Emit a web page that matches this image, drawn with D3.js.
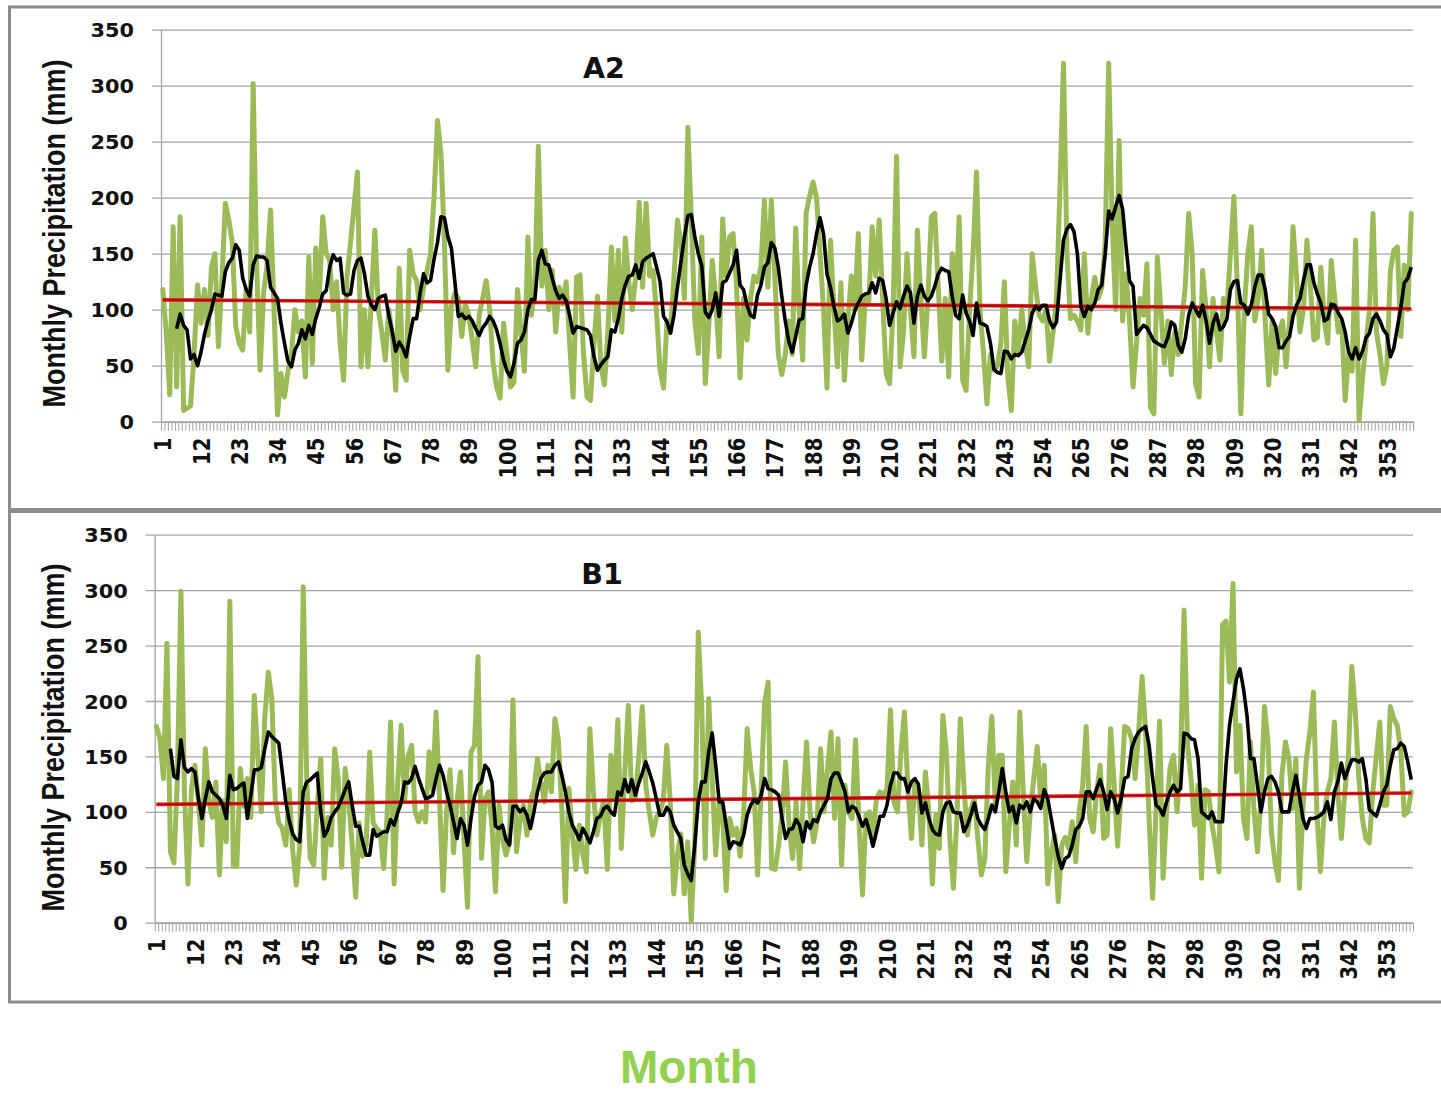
<!DOCTYPE html>
<html>
<head>
<meta charset="utf-8">
<script src="https://cdn.jsdelivr.net/npm/d3@7"></script>
<style>
  html, body { margin: 0; padding: 0; background: #fff; }
  svg { display: block; }
</style>
</head>
<body>
<svg id="chart" width="1441" height="1095"></svg>
<script>
// Categories: 360 consecutive months
const months = d3.range(1, 361);
// Labelled months on the category axis (every 11th month)
const xTickLabels = d3.range(1, 361, 11);
// Value axis ticks (mm)
const yTicks = [0, 50, 100, 150, 200, 250, 300, 350];

// Scenario A2 – monthly precipitation (mm), one row per 12 months
const a2Rain = [
  118, 80, 24, 174, 31, 183, 10, 12, 14, 60, 122, 88,
  118, 77, 138, 150, 67, 125, 195, 180, 160, 85, 70, 64,
  118, 80, 302, 140, 46, 115, 140, 189, 100, 6, 43, 22,
  45, 60, 100, 80, 90, 40, 147, 52, 155, 110, 183, 150,
  144, 100, 125, 70, 37, 130, 160, 192, 223, 49, 100, 49,
  110, 171, 100, 80, 55, 100, 78, 28, 137, 46, 37, 153,
  132, 126, 100, 120, 135, 150, 200, 269, 240, 160, 46, 103,
  115, 110, 76, 105, 95, 73, 49, 95, 110, 126, 100, 52,
  31, 21, 88, 60, 31, 35, 118, 80, 45, 165, 95, 120,
  246, 121, 153, 100, 135, 80, 120, 105, 125, 70, 22, 129,
  131, 60, 22, 19, 70, 112, 49, 33, 80, 156, 90, 153,
  80, 164, 125, 100, 130, 196, 120, 195, 130, 135, 97, 46,
  30, 90, 80, 130, 180, 160, 110, 263, 180, 90, 61, 165,
  34, 85, 144, 110, 58, 181, 130, 165, 168, 120, 39, 110,
  73, 110, 130, 125, 138, 198, 120, 198, 130, 60, 42, 60,
  90, 60, 173, 100, 55, 186, 201, 214, 200, 150, 100, 30,
  162, 100, 49, 124, 37, 90, 130, 100, 168, 55, 110, 105,
  174, 130, 180, 110, 43, 34, 100, 237, 49, 80, 150, 100,
  58, 171, 110, 58, 110, 183, 186, 120, 54, 110, 40, 150,
  100, 183, 37, 28, 100, 150, 223, 100, 61, 16, 60, 46,
  50, 70, 125, 40, 10, 90, 61, 100, 70, 49, 150, 120,
  95, 90, 100, 54, 80, 110, 210, 320, 150, 92, 95, 90,
  82, 150, 79, 110, 129, 110, 120, 160, 320, 180, 100, 251,
  90, 132, 90, 31, 70, 110, 95, 141, 13, 7, 147, 100,
  52, 90, 42, 80, 60, 90, 120, 186, 150, 34, 22, 135,
  100, 49, 110, 80, 55, 110, 100, 150, 201, 120, 7, 100,
  150, 174, 90, 110, 153, 90, 33, 90, 43, 80, 90, 49,
  90, 174, 130, 80, 100, 162, 120, 73, 75, 138, 90, 70,
  144, 110, 80, 90, 19, 60, 45, 162, 1, 40, 70, 100,
  186, 80, 60, 34, 50, 135, 153, 156, 76, 140, 100, 186
];

// Scenario A2 – moving-average curve (mm); starts at month 5
const a2Smooth = [
  null, null, null, null, 83, 96, 86, 82, 56, 60, 50, 62,
  78, 90, 100, 114, 113, 112, 134, 142, 146, 158, 153, 128,
  118, 112, 140, 148, 147, 147, 144, 120, 115, 110, 88, 70,
  54, 49, 64, 70, 82, 74, 86, 78, 92, 102, 114, 117,
  138, 149, 144, 146, 115, 113, 114, 135, 144, 146, 132, 112,
  104, 100, 110, 112, 113, 95, 80, 63, 71, 66, 58, 76,
  92, 92, 115, 132, 124, 126, 145, 160, 183, 182, 165, 155,
  125, 94, 96, 92, 94, 90, 83, 77, 84, 88, 94, 90,
  82, 70, 55, 45, 40, 52, 70, 73, 80, 100, 109, 109,
  144, 153, 141, 140, 128, 117, 110, 113, 108, 95, 79, 85,
  84, 83, 82, 77, 58, 46, 51, 55, 58, 82, 80, 92,
  110, 122, 130, 131, 140, 128, 143, 146, 148, 150, 138, 125,
  94, 89, 79, 95, 120, 143, 165, 184, 185, 165, 150, 139,
  98, 93, 100, 115, 94, 124, 126, 133, 140, 153, 122, 118,
  104, 95, 93, 113, 122, 138, 142, 160, 155, 138, 112, 90,
  72, 62, 76, 91, 92, 122, 138, 150, 168, 182, 168, 132,
  120, 103, 90, 92, 96, 79, 88, 99, 106, 112, 114, 115,
  124, 115, 128, 126, 110, 86, 97, 107, 101, 112, 121, 115,
  88, 112, 122, 112, 108, 112, 121, 132, 137, 135, 134, 112,
  95, 92, 113, 97, 90, 77, 106, 88, 87, 85, 70, 47,
  44, 43, 63, 62, 56, 60, 59, 62, 72, 82, 97, 103,
  100, 104, 104, 90, 84, 89, 126, 162, 172, 176, 170, 150,
  103, 94, 103, 100, 106, 118, 122, 150, 188, 181, 192, 202,
  190, 156, 126, 121, 78, 82, 86, 84, 78, 72, 70, 68,
  67, 75, 89, 86, 68, 62, 74, 95, 106, 100, 94, 104,
  90, 70, 88, 96, 82, 85, 92, 118, 125, 126, 106, 104,
  96, 104, 120, 131, 131, 118, 96, 92, 85, 66, 66, 72,
  76, 94, 104, 110, 126, 140, 140, 124, 114, 106, 90, 92,
  105, 104, 97, 92, 80, 62, 56, 66, 56, 63, 75, 79,
  92, 96, 90, 82, 78, 58, 66, 84, 102, 124, 128, 138
];

// Scenario A2 – linear trend, value at first and last month
const a2Trend = [108.8, 100.9];

// Scenario B1 – monthly precipitation (mm), one row per 12 months
const b1Rain = [
  177, 166, 130, 252, 64, 54, 130, 299, 118, 35, 120, 142,
  110, 70, 157, 110, 95, 127, 43, 110, 73, 290, 51, 51,
  139, 105, 130, 95, 205, 150, 100, 185, 226, 202, 110, 90,
  85, 70, 120, 65, 34, 70, 303, 130, 58, 52, 105, 148,
  40, 95, 70, 157, 130, 50, 139, 110, 70, 23, 90, 60,
  70, 154, 90, 85, 82, 49, 97, 181, 35, 125, 178, 110,
  150, 160, 100, 91, 100, 91, 154, 120, 190, 110, 29, 100,
  138, 63, 110, 136, 75, 14, 154, 160, 240, 58, 112, 118,
  88, 28, 106, 75, 61, 73, 201, 64, 91, 106, 79, 109,
  120, 148, 127, 109, 142, 118, 184, 165, 100, 19, 121, 79,
  48, 88, 61, 46, 175, 118, 79, 97, 110, 48, 151, 112,
  183, 67, 136, 196, 110, 112, 150, 195, 124, 100, 79, 95,
  100, 110, 160, 109, 26, 60, 80, 26, 73, 1, 70, 262,
  196, 58, 202, 130, 61, 109, 94, 29, 94, 79, 85, 60,
  97, 175, 139, 118, 43, 118, 199, 217, 49, 48, 70, 97,
  145, 88, 58, 109, 49, 109, 163, 100, 73, 91, 157, 100,
  139, 172, 94, 166, 52, 124, 100, 94, 165, 91, 25, 97,
  100, 79, 112, 118, 115, 120, 192, 109, 100, 154, 190, 120,
  76, 128, 118, 70, 136, 100, 35, 97, 67, 187, 154, 76,
  31, 94, 184, 124, 79, 103, 112, 76, 43, 58, 142, 186,
  106, 151, 151, 46, 88, 127, 70, 190, 118, 55, 100, 130,
  159, 109, 142, 35, 64, 79, 19, 70, 77, 67, 91, 55,
  100, 124, 177, 94, 82, 118, 142, 76, 79, 175, 124, 69,
  118, 177, 175, 166, 130, 172, 222, 172, 94, 22, 103, 182,
  40, 100, 140, 151, 100, 142, 282, 160, 130, 88, 124, 40,
  120, 118, 88, 70, 46, 269, 272, 217, 306, 136, 178, 94,
  76, 163, 103, 64, 112, 195, 163, 82, 55, 38, 133, 163,
  148, 103, 148, 31, 103, 148, 172, 208, 100, 46, 94, 118,
  130, 181, 118, 76, 118, 150, 231, 190, 130, 94, 76, 72,
  118, 150, 181, 106, 106, 195, 184, 178, 155, 97, 100, 118
];

// Scenario B1 – moving-average curve (mm); starts at month 5
const b1Smooth = [
  null, null, null, null, 157, 132, 130, 165, 140, 136, 139, 136,
  112, 94, 112, 127, 118, 115, 112, 106, 94, 133, 120, 121,
  124, 126, 94, 115, 138, 138, 140, 157, 172, 168, 165, 162,
  136, 109, 92, 80, 75, 73, 118, 127, 129, 132, 135, 100,
  78, 84, 95, 100, 104, 112, 120, 127, 106, 87, 87, 73,
  61, 61, 84, 78, 80, 82, 82, 93, 88, 99, 108, 127,
  126, 130, 141, 130, 121, 112, 113, 115, 130, 142, 133, 118,
  106, 91, 76, 94, 88, 70, 94, 114, 124, 127, 142, 138,
  127, 87, 85, 88, 75, 70, 105, 105, 100, 103, 97, 85,
  100, 118, 130, 135, 136, 136, 142, 145, 133, 118, 100, 88,
  82, 75, 85, 79, 72, 82, 94, 96, 103, 105, 100, 97,
  118, 115, 129, 118, 129, 115, 126, 135, 145, 136, 126, 112,
  97, 97, 104, 100, 88, 82, 76, 52, 44, 38, 70, 109,
  127, 127, 154, 171, 142, 109, 109, 88, 67, 73, 72, 70,
  79, 97, 106, 111, 108, 115, 130, 121, 120, 118, 115, 94,
  76, 84, 85, 93, 88, 73, 91, 85, 93, 91, 100, 106,
  112, 130, 135, 135, 127, 118, 100, 105, 103, 96, 87, 93,
  82, 69, 82, 96, 96, 106, 124, 135, 135, 130, 130, 118,
  127, 130, 125, 99, 108, 94, 84, 80, 79, 100, 108, 109,
  100, 99, 99, 82, 88, 97, 108, 94, 88, 84, 94, 106,
  100, 118, 139, 118, 100, 105, 90, 106, 103, 109, 100, 112,
  109, 103, 120, 112, 94, 76, 60, 49, 58, 60, 70, 84,
  87, 94, 118, 118, 112, 121, 129, 118, 102, 118, 112, 99,
  112, 130, 132, 157, 166, 172, 175, 177, 160, 130, 106, 103,
  97, 109, 118, 124, 118, 121, 171, 170, 166, 165, 148, 100,
  97, 94, 100, 91, 91, 91, 142, 178, 199, 220, 229, 211,
  187, 148, 148, 124, 100, 118, 130, 132, 127, 118, 100, 100,
  100, 118, 133, 115, 94, 85, 94, 94, 95, 97, 100, 109,
  93, 118, 127, 144, 130, 139, 147, 147, 145, 148, 130, 102,
  99, 96, 106, 118, 124, 142, 156, 157, 162, 159, 145, 129
];

// Scenario B1 – linear trend, value at first and last month
const b1Trend = [106.7, 117.0];
const trendMonths = [1, 360];

// Layout of the two stacked panels
const panels = [
  { title: "A2", rain: a2Rain, smooth: a2Smooth, trend: a2Trend,
    frameTop: 7, frameBottom: 509.5,
    left: 161, right: 1413, top: 29.7, bottom: 421.7,
    titleX: 604, titleY: 77.5, yTitleX: 65, yTitleY: 233.5 },
  { title: "B1", rain: b1Rain, smooth: b1Smooth, trend: b1Trend,
    frameTop: 511.5, frameBottom: 1002,
    left: 154.7, right: 1413, top: 534.7, bottom: 922.7,
    titleX: 602, titleY: 583.5, yTitleX: 64, yTitleY: 737.5 }
];

const COLORS = {
  rain: "#9BBB59",
  smooth: "#000000",
  trendOuter: "#e01b1b",
  trendInner: "#a30000",
  grid: "#a3a3a3",
  frame: "#8c8c8c",
  text: "#111111",
  xTitle: "#92D050"
};
const TICK_FONT = "'DejaVu Sans', Verdana, sans-serif";
const TITLE_FONT = "'Liberation Sans', Arial, sans-serif";

const svg = d3.select("#chart");

panels.forEach(p => {
  const g = svg.append("g");

  // panel frame (extends past the right edge of the page)
  g.append("rect")
    .attr("x", 9.5).attr("y", p.frameTop)
    .attr("width", 1450).attr("height", p.frameBottom - p.frameTop)
    .attr("fill", "none")
    .attr("stroke", COLORS.frame)
    .attr("stroke-width", 3);

  const x = d3.scaleLinear().domain([0.5, 360.5]).range([p.left, p.right]);
  const y = d3.scaleLinear().domain([0, 350]).range([p.bottom, p.top]);

  // value axis with gridlines
  const yAxis = g.append("g")
    .attr("transform", `translate(${p.left},0)`)
    .call(d3.axisLeft(y).tickValues(yTicks)
      .tickSize(-(p.right - p.left)).tickSizeOuter(0).tickFormat(d3.format("d")));
  yAxis.select(".domain").attr("stroke", COLORS.grid).attr("stroke-width", 1.3);
  yAxis.selectAll(".tick line")
    .attr("x1", -9)
    .attr("stroke", COLORS.grid).attr("stroke-width", 1.3);
  yAxis.selectAll(".tick text")
    .attr("x", null).attr("dy", "0.36em")
    .attr("transform", "translate(-27,0) scale(1.07,1)")
    .attr("text-anchor", "end")
    .attr("fill", COLORS.text)
    .style("font-family", TICK_FONT)
    .style("font-weight", "bold")
    .style("font-size", "19.5px");

  // category axis: one small tick per month boundary
  const xMinor = g.append("g")
    .attr("transform", `translate(0,${p.bottom})`)
    .call(d3.axisBottom(x).tickValues(d3.range(0.5, 361, 1))
      .tickSize(9).tickSizeOuter(0).tickFormat(""));
  xMinor.select(".domain").attr("stroke", COLORS.grid).attr("stroke-width", 1.5);
  xMinor.selectAll(".tick line").attr("stroke", COLORS.grid).attr("stroke-width", 1);

  // category labels, rotated
  const xLab = g.append("g")
    .attr("transform", `translate(0,${p.bottom})`)
    .call(d3.axisBottom(x).tickValues(xTickLabels).tickSize(0).tickPadding(0));
  xLab.select(".domain").remove();
  xLab.selectAll(".tick text")
    .attr("y", null).attr("dy", "0.36em")
    .attr("transform", "translate(0,16) scale(1.15,1) rotate(-90)")
    .attr("text-anchor", "end")
    .attr("fill", COLORS.text)
    .style("font-family", TICK_FONT)
    .style("font-weight", "bold")
    .style("font-size", "19.6px");

  // series
  const line = d3.line()
    .defined(d => d[1] != null)
    .x(d => x(d[0]))
    .y(d => y(d[1]));

  g.append("path")
    .datum(months.map((m, i) => [m, p.rain[i]]))
    .attr("d", line)
    .attr("fill", "none")
    .attr("stroke", COLORS.rain)
    .attr("stroke-width", 5)
    .attr("stroke-linejoin", "round")
    .attr("stroke-linecap", "round");

  const trendPts = trendMonths.map((m, i) => [m, p.trend[i]]);
  g.append("path").datum(trendPts).attr("d", line)
    .attr("fill", "none").attr("stroke", COLORS.trendOuter).attr("stroke-width", 3.6);
  g.append("path").datum(trendPts).attr("d", line)
    .attr("fill", "none").attr("stroke", COLORS.trendInner).attr("stroke-width", 1.2);

  g.append("path")
    .datum(months.map((m, i) => [m, p.smooth[i]]))
    .attr("d", line)
    .attr("fill", "none")
    .attr("stroke", COLORS.smooth)
    .attr("stroke-width", 3.6)
    .attr("stroke-linejoin", "round");

  // panel title
  g.append("text")
    .attr("x", p.titleX).attr("y", p.titleY)
    .attr("text-anchor", "middle")
    .attr("fill", COLORS.text)
    .style("font-family", TICK_FONT)
    .style("font-weight", "bold")
    .style("font-size", "28.5px")
    .text(p.title);

  // value axis title
  g.append("text")
    .attr("transform", `translate(${p.yTitleX},${p.yTitleY}) scale(1.15,1) rotate(-90)`)
    .attr("text-anchor", "middle")
    .attr("fill", COLORS.text)
    .style("font-family", TITLE_FONT)
    .style("font-weight", "bold")
    .style("font-size", "27px")
    .text("Monthly Precipitation (mm)");
});

// shared category axis title
svg.append("text")
  .attr("x", 689).attr("y", 1083)
  .attr("text-anchor", "middle")
  .attr("fill", COLORS.xTitle)
  .style("font-family", TITLE_FONT)
  .style("font-weight", "bold")
  .style("font-size", "46px")
  .text("Month");
</script>
</body>
</html>
